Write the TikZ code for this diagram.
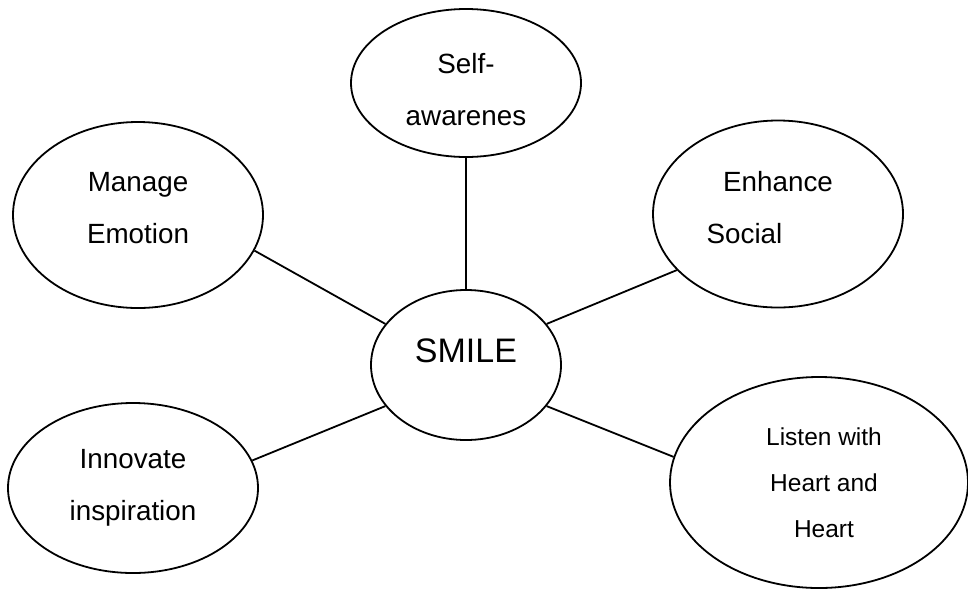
\documentclass[tikz,border=0pt]{standalone}
\usepackage{fontspec}
\setmainfont{Liberation Sans}
\usetikzlibrary{shapes.geometric}
\begin{document}
\begin{tikzpicture}[x=1pt,y=-1pt,
  bubble/.style={draw=black, line width=1.8pt, shape=ellipse, inner sep=0pt,
    align=center, font=\fontsize{27.8}{52}\selectfont},
  link/.style={draw=black, line width=1.8pt}]
\useasboundingbox (0,0) rectangle (968,590);
\node[bubble, minimum width=230pt, minimum height=148pt] (self) at (466,83)
  {\rule{0pt}{33pt}Self-\\awarenes};
\node[bubble, minimum width=250pt, minimum height=186pt] (manage) at (138,215)
  {Manage\\Emotion\rule[-14pt]{0pt}{14pt}};
\node[bubble, minimum width=250pt, minimum height=187pt] (enhance) at (778,214)
  {Enhance\\Social\hspace*{67pt}\rule[-14pt]{0pt}{14pt}};
\node[bubble, minimum width=190pt, minimum height=150pt, font=\fontsize{34}{40}\selectfont] (smile) at (466,365)
  {SMILE\rule[-28pt]{0pt}{28pt}};
\node[bubble, minimum width=250pt, minimum height=170pt] (innovate) at (133,488)
  {Innovate\\inspiration};
\node[bubble, minimum width=298pt, minimum height=211pt, font=\fontsize{24.5}{46}\selectfont] (listen) at (819,482.5)
  {\hspace*{10pt}Listen with\\\hspace*{10pt}Heart and\\\hspace*{10pt}Heart};
\draw[link] (self.270) -- (smile.90);
\draw[link] (manage.-17) -- (smile.153);
\draw[link] (enhance.209) -- (smile.27);
\draw[link] (innovate.13.6) -- (smile.207);
\draw[link] (listen.170.3) -- (smile.333);
\end{tikzpicture}
\end{document}
